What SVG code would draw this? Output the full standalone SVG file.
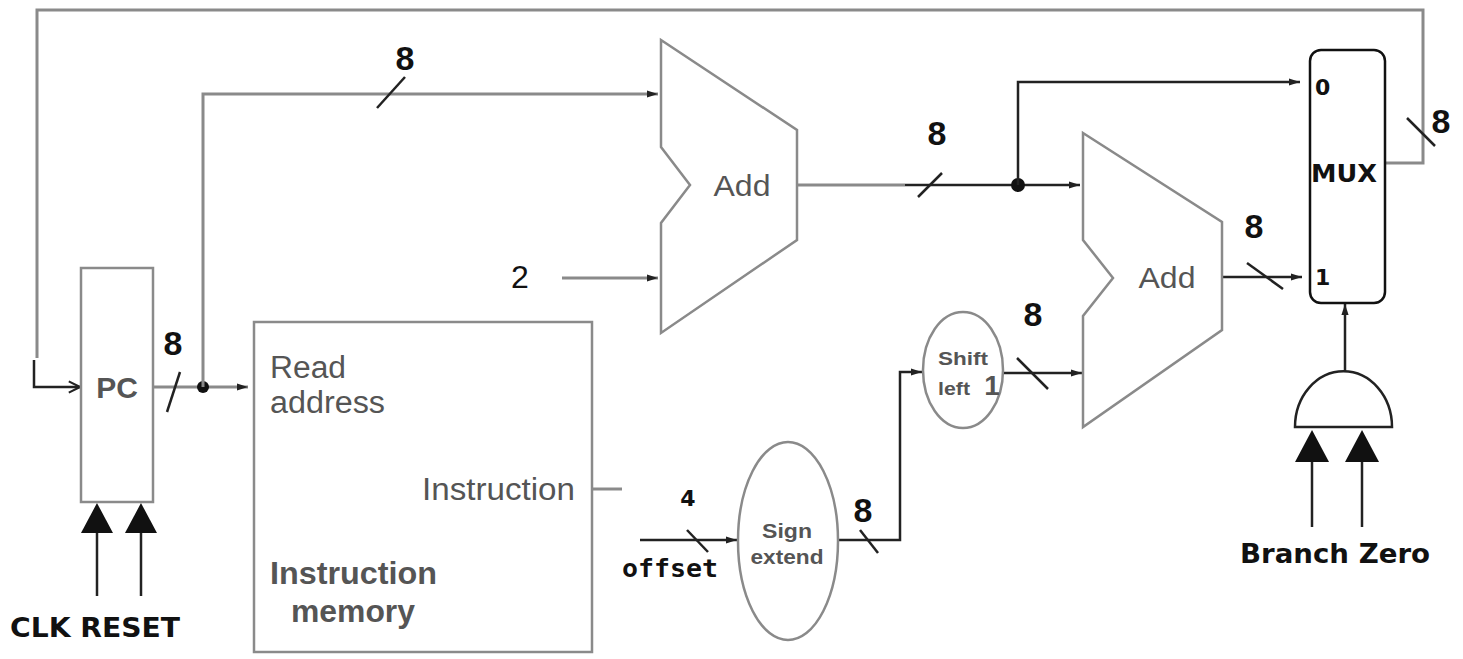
<svg xmlns="http://www.w3.org/2000/svg" width="1463" height="659" viewBox="0 0 1463 659">
<defs>
<style>
.g{stroke:#8a8a8a;stroke-width:3;fill:none}
.k{stroke:#222;stroke-width:2.5;fill:none}
.shape{stroke:#8a8a8a;stroke-width:2.5;fill:#fff}
.num{font-family:"Liberation Sans",Arial,sans-serif;font-weight:bold;font-size:34px;fill:#111}
.lbl{font-family:"Liberation Sans",Arial,sans-serif;fill:#555}
.pix{font-family:"DejaVu Sans","Liberation Sans",sans-serif;font-weight:bold;fill:#111}
.mono{font-family:"DejaVu Sans Mono","Liberation Mono",monospace;font-weight:bold;fill:#111}
.tri{fill:#111}
</style>
<marker id="a" viewBox="0 0 10 10" refX="10" refY="5" markerWidth="11" markerHeight="9" markerUnits="userSpaceOnUse" orient="auto" preserveAspectRatio="none"><path d="M0,1 L10,5 L0,9 z" fill="#222"/></marker>
<marker id="o" viewBox="0 0 10 10" refX="10" refY="5" markerWidth="14" markerHeight="14" markerUnits="userSpaceOnUse" orient="auto"><path d="M2,1 L10,5 L2,9" fill="none" stroke="#222" stroke-width="1.5"/></marker>
</defs>

<g id="connectors">
<!-- feedback loop from MUX to PC -->
<polyline class="g" points="1385,163 1423,163 1423,10 37,10 37,358"/>
<polyline class="k" points="34,360 34,387 80,387" marker-end="url(#o)"/>
<line x1="1407" y1="118" x2="1435" y2="146" class="k" stroke-width="2"/>
<!-- PC to memory -->
<line x1="153" y1="387" x2="248" y2="387" class="g" marker-end="url(#a)"/>
<line x1="167" y1="412" x2="180" y2="372" class="k" stroke-width="2"/>
<circle cx="203" cy="387" r="6" fill="#111"/>
<!-- branch up to Add1 -->
<polyline class="g" points="203,387 203,94 658,94" marker-end="url(#a)"/>
<line x1="377" y1="108" x2="405" y2="77" class="k" stroke-width="2"/>
<!-- constant 2 -->
<line x1="562" y1="278" x2="658" y2="278" class="g" marker-end="url(#a)"/>
<!-- Add1 output -->
<line x1="797" y1="185" x2="905" y2="185" class="g"/>
<line x1="905" y1="185" x2="1080" y2="185" class="k" marker-end="url(#a)"/>
<line x1="918" y1="197" x2="942" y2="173" class="k" stroke-width="2"/>
<circle cx="1018" cy="185" r="7" fill="#111"/>
<polyline class="k" points="1018,185 1018,82 1300,82" marker-end="url(#a)"/>
<!-- Add2 output to MUX -->
<line x1="1222" y1="277" x2="1302" y2="277" class="k" marker-end="url(#a)"/>
<line x1="1247" y1="263" x2="1283" y2="289" class="k" stroke-width="2"/>
<!-- instruction stub -->
<line x1="592" y1="489" x2="622" y2="489" class="g" stroke-width="2"/>
<!-- offset -->
<line x1="640" y1="540" x2="737" y2="540" class="k" stroke-width="2" marker-end="url(#a)"/>
<line x1="687" y1="530" x2="708" y2="552" class="k" stroke-width="1.5"/>
<!-- sign extend to shift -->
<polyline class="k" stroke-width="2" points="838,540 900,540 900,372 922,372" marker-end="url(#a)"/>
<line x1="860" y1="530" x2="878" y2="553" class="k" stroke-width="1.5"/>
<!-- shift to Add2 -->
<line x1="1003" y1="373" x2="1082" y2="373" class="k" marker-end="url(#a)"/>
<line x1="1017" y1="358" x2="1048" y2="389" class="k" stroke-width="2"/>
<!-- AND to MUX select -->
<line x1="1345" y1="374" x2="1345" y2="304" class="k" marker-end="url(#a)"/>
<!-- CLK RESET arrows -->
<line x1="97" y1="596" x2="97" y2="530" class="k" stroke-width="3"/>
<polygon points="97,503 81,533 113,533" class="tri"/>
<line x1="141" y1="596" x2="141" y2="530" class="k" stroke-width="3"/>
<polygon points="141,503 125,533 157,533" class="tri"/>
<!-- Branch Zero arrows -->
<line x1="1312" y1="527" x2="1312" y2="460" class="k" stroke-width="3"/>
<polygon points="1312,430 1295,462 1329,462" class="tri"/>
<line x1="1362" y1="527" x2="1362" y2="460" class="k" stroke-width="3"/>
<polygon points="1362,430 1345,462 1379,462" class="tri"/>
</g>

<g id="pc">
<rect x="81" y="268" width="72" height="234" class="shape" stroke-width="2"/>
<text x="117" y="398" text-anchor="middle" class="lbl" font-weight="bold" font-size="30" fill="#333">PC</text>
</g>

<g id="instruction-memory">
<rect x="254" y="322" width="338" height="330" class="shape" stroke-width="2"/>
<text x="270" y="378" class="lbl" font-size="31" textLength="76" lengthAdjust="spacingAndGlyphs">Read</text>
<text x="270" y="413" class="lbl" font-size="31" textLength="115" lengthAdjust="spacingAndGlyphs">address</text>
<text x="422" y="500" class="lbl" font-size="31" textLength="153" lengthAdjust="spacingAndGlyphs">Instruction</text>
<text x="270" y="584" class="lbl" font-size="31" font-weight="bold" fill="#444" textLength="167" lengthAdjust="spacingAndGlyphs">Instruction</text>
<text x="291" y="622" class="lbl" font-size="31" font-weight="bold" fill="#444" textLength="124" lengthAdjust="spacingAndGlyphs">memory</text>
</g>

<g id="add1">
<polygon points="661,40 797,130 797,240 661,333 661,223 690,185 661,147" class="shape"/>
<text x="742" y="196" text-anchor="middle" class="lbl" font-size="30" textLength="57" lengthAdjust="spacingAndGlyphs">Add</text>
</g>

<g id="add2">
<polygon points="1083,133 1222,222 1222,330 1083,427 1083,316 1113,278 1083,240" class="shape"/>
<text x="1167" y="288" text-anchor="middle" class="lbl" font-size="30" textLength="57" lengthAdjust="spacingAndGlyphs">Add</text>
</g>

<g id="mux">
<rect x="1310" y="50" width="75" height="253" rx="11" fill="#fff" stroke="#111" stroke-width="2.5"/>
<text x="1315" y="95" class="pix" font-size="22">0</text>
<text x="1315" y="285" class="pix" font-size="22">1</text>
<text x="1311" y="182" class="pix" font-size="25" textLength="66" lengthAdjust="spacingAndGlyphs">MUX</text>
</g>

<g id="and-gate">
<path d="M1295,427 A47,54 0 0 1 1392,427 Z" fill="#fff" stroke="#222" stroke-width="2.5"/>
</g>

<g id="sign-extend">
<ellipse cx="788" cy="541" rx="50" ry="99" class="shape" stroke-width="2"/>
<text x="787" y="538" text-anchor="middle" class="lbl" font-size="21" font-weight="bold" fill="#333" textLength="50" lengthAdjust="spacingAndGlyphs">Sign</text>
<text x="787" y="564" text-anchor="middle" class="lbl" font-size="21" font-weight="bold" fill="#333" textLength="73" lengthAdjust="spacingAndGlyphs">extend</text>
</g>

<g id="shift-left">
<ellipse cx="963" cy="370" rx="40" ry="58" class="shape" stroke-width="2"/>
<text x="963" y="365" text-anchor="middle" class="lbl" font-size="19" font-weight="bold" fill="#333" textLength="50" lengthAdjust="spacingAndGlyphs">Shift</text>
<text x="954" y="395" text-anchor="middle" class="lbl" font-size="19" font-weight="bold" fill="#333" textLength="32" lengthAdjust="spacingAndGlyphs">left</text>
<text x="992" y="395" text-anchor="middle" class="lbl" font-size="28" font-weight="bold" fill="#111">1</text>
</g>

<g id="labels">
<text x="405" y="70" text-anchor="middle" class="num">8</text>
<text x="173" y="355" text-anchor="middle" class="num">8</text>
<text x="937" y="145" text-anchor="middle" class="num">8</text>
<text x="1254" y="238" text-anchor="middle" class="num">8</text>
<text x="1033" y="326" text-anchor="middle" class="num">8</text>
<text x="1441" y="133" text-anchor="middle" class="num">8</text>
<text x="863" y="522" text-anchor="middle" class="num">8</text>
<text x="520" y="288" text-anchor="middle" font-family="Liberation Sans,Arial,sans-serif" font-size="32" fill="#111">2</text>
<text x="688" y="506" text-anchor="middle" class="pix" font-size="22">4</text>
<text x="622" y="577" class="mono" font-size="24" textLength="96" lengthAdjust="spacingAndGlyphs">offset</text>
<text x="10" y="637" class="pix" font-size="27" textLength="170" lengthAdjust="spacingAndGlyphs">CLK RESET</text>
<text x="1240" y="563" class="pix" font-size="27" textLength="190" lengthAdjust="spacingAndGlyphs">Branch Zero</text>
</g>
</svg>
